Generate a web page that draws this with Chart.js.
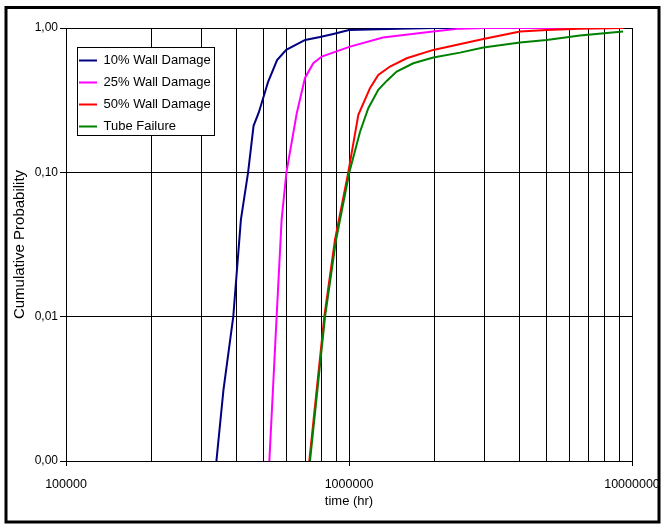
<!DOCTYPE html>
<html>
<head>
<meta charset="utf-8">
<script src="https://cdn.jsdelivr.net/npm/chart.js@4/dist/chart.umd.min.js"></script>
<style>
  body { margin: 0; background: #fff; }
  #wrap { width: 664px; height: 525px; position: relative; }
</style>
</head>
<body>
<div id="wrap"><canvas id="probChart"></canvas></div>
<script>
// series (time in hours, cumulative probability)
const wall10Time = [340000, 360000, 390000, 415000, 440000, 460000, 480000, 505000, 517000, 557000, 600000, 700000, 790000, 880000, 1000000, 1500000, 2000000, 9300000];
const wall10Prob = [0.001, 0.0031, 0.01, 0.047, 0.1, 0.21, 0.26, 0.36, 0.42, 0.60, 0.705, 0.826, 0.866, 0.909, 0.968, 0.99, 1.0, 1.0];

const wall25Time = [523000, 555000, 578000, 601000, 654000, 699000, 748000, 801000, 1008000, 1318000, 1982000, 2467000, 3000000, 9300000];
const wall25Prob = [0.001, 0.01, 0.047, 0.1, 0.258, 0.451, 0.57, 0.634, 0.743, 0.858, 0.944, 0.99, 1.0, 1.0];

const wall50Time = [724000, 818000, 892000, 994000, 1079000, 1186000, 1269000, 1396000, 1599000, 1986000, 2983000, 4020000, 4995000, 6547000, 9300000];
const wall50Prob = [0.001, 0.01, 0.034, 0.1, 0.25, 0.383, 0.473, 0.541, 0.617, 0.705, 0.84, 0.944, 0.968, 0.99, 1.0];

const tubeTime = [728000, 823000, 900000, 1003000, 1094000, 1170000, 1269000, 1359000, 1474000, 1687000, 1986000, 2467000, 2983000, 4020000, 4995000, 6547000, 9300000];
const tubeProb = [0.001, 0.01, 0.034, 0.1, 0.191, 0.278, 0.373, 0.43, 0.499, 0.57, 0.624, 0.675, 0.732, 0.792, 0.826, 0.886, 0.944];

const seriesNames = ['10% Wall Damage', '25% Wall Damage', '50% Wall Damage', 'Tube Failure'];
const seriesColors = ['#000080', '#ff00ff', '#ff0000', '#008000'];

// axis ticks
const xGridValues = [100000, 200000, 300000, 400000, 500000, 600000, 700000, 800000, 900000,
  1000000, 2000000, 3000000, 4000000, 5000000, 6000000, 7000000, 8000000, 9000000, 10000000];
const xLabelValues = [100000, 1000000, 10000000];
const xLabels = ['100000', '1000000', '10000000'];
const yTickValues = [0.001, 0.01, 0.1, 1];
const yTickLabels = ['0,00', '0,01', '0,10', '1,00'];

const FONT = '"Liberation Sans", Arial, sans-serif';

const toPoints = (xs, ys) => xs.map((x, i) => ({ x: x, y: ys[i] }));

// white page + black outer frame
const framePlugin = {
    id: 'frame',
    beforeDraw(chart) {
        const ctx = chart.ctx;
        ctx.save();
        ctx.fillStyle = '#fff';
        ctx.fillRect(0, 0, chart.width, chart.height);
        ctx.strokeStyle = '#000';
        ctx.lineWidth = 3;
        ctx.strokeRect(6, 7.5, 653, 514.5);
        ctx.restore();
    }
};

// legend sits inside the plot, in a white box with a thin border
const legendBoxPlugin = {
    id: 'legendBox',
    afterLayout(chart) {
        const lg = chart.legend;
        lg.left = 70;
        lg.top = 45;
    },
    afterDraw(chart) {
        const lg = chart.legend;
        const ctx = chart.ctx;
        ctx.save();
        ctx.font = '13px ' + FONT;
        const maxW = Math.max(...seriesNames.map(t => ctx.measureText(t).width));
        const x0 = Math.round(lg.left + 7) + 0.5;
        const y0 = Math.round(lg.top + 2) + 0.5;
        const w = Math.round(9 + 18 + 6.5 + maxW + 3 - 7);
        const h = Math.round(9 + 4 * 13 + 3 * 9 + 2 - 2);
        ctx.fillStyle = '#fff';
        ctx.fillRect(x0, y0, w, h);
        ctx.strokeStyle = '#000';
        ctx.lineWidth = 1;
        ctx.strokeRect(x0, y0, w, h);
        ctx.restore();
        lg.draw();
    }
};

const ctx = document.getElementById('probChart').getContext('2d');
new Chart(ctx, {
    type: 'line',
    data: {
        datasets: [
            { label: seriesNames[0], data: toPoints(wall10Time, wall10Prob), borderColor: seriesColors[0], backgroundColor: seriesColors[0], order: 3 },
            { label: seriesNames[1], data: toPoints(wall25Time, wall25Prob), borderColor: seriesColors[1], backgroundColor: seriesColors[1], order: 2 },
            { label: seriesNames[2], data: toPoints(wall50Time, wall50Prob), borderColor: seriesColors[2], backgroundColor: seriesColors[2], order: 1 },
            { label: seriesNames[3], data: toPoints(tubeTime, tubeProb), borderColor: seriesColors[3], backgroundColor: seriesColors[3], order: 0 }
        ]
    },
    options: {
        responsive: true,
        maintainAspectRatio: false,
        animation: false,
        layout: { padding: { left: 8, top: 28, right: 32, bottom: 10 } },
        elements: {
            line: { borderWidth: 2, tension: 0, fill: false },
            point: { radius: 0, hoverRadius: 0 }
        },
        scales: {
            x: {
                type: 'logarithmic',
                min: 100000,
                max: 10000000,
                afterBuildTicks: (scale) => {
                    scale.ticks = xGridValues.map(v => ({ value: v }));
                },
                afterFit: (scale) => {
                    scale.height = 54;
                    scale.paddingLeft = 0;
                    scale.paddingRight = 0;
                },
                ticks: {
                    autoSkip: false,
                    maxRotation: 0,
                    padding: 11,
                    color: '#000',
                    font: { family: FONT, size: 12.5 },
                    callback: (value) => {
                        const i = xLabelValues.indexOf(value);
                        return i >= 0 ? xLabels[i] : '';
                    }
                },
                grid: {
                    color: '#000',
                    lineWidth: 1,
                    tickLength: 5,
                    tickColor: (c) => (c.tick && xLabelValues.includes(c.tick.value)) ? '#000' : 'rgba(0,0,0,0)'
                },
                border: { color: '#000', width: 1 },
                title: {
                    display: true,
                    text: 'time (hr)',
                    color: '#000',
                    font: { family: FONT, size: 13 },
                    padding: { top: 0, bottom: 6 }
                }
            },
            y: {
                type: 'logarithmic',
                min: 0.001,
                max: 1,
                afterBuildTicks: (scale) => {
                    scale.ticks = yTickValues.map(v => ({ value: v }));
                },
                afterFit: (scale) => { scale.width = 58; },
                ticks: {
                    autoSkip: false,
                    padding: 2,
                    color: '#000',
                    font: { family: FONT, size: 12 },
                    callback: (value) => {
                        const i = yTickValues.indexOf(value);
                        return i >= 0 ? yTickLabels[i] : '';
                    }
                },
                grid: { color: '#000', lineWidth: 1, tickLength: 6, tickColor: '#000' },
                border: { color: '#000', width: 1 },
                title: {
                    display: true,
                    text: 'Cumulative Probability',
                    color: '#000',
                    font: { family: FONT, size: 15 },
                    padding: { top: 3, bottom: 0 }
                }
            }
        },
        plugins: {
            tooltip: { enabled: false },
            legend: {
                position: 'chartArea',
                align: 'start',
                labels: {
                    boxWidth: 18,
                    boxHeight: 2,
                    padding: 9,
                    color: '#000',
                    font: { family: FONT, size: 13 },
                    generateLabels: (chart) => chart.data.datasets.map((ds, i) => ({
                        text: ds.label,
                        fillStyle: ds.borderColor,
                        strokeStyle: ds.borderColor,
                        lineWidth: 0,
                        hidden: false,
                        fontColor: '#000',
                        datasetIndex: i
                    }))
                }
            }
        }
    },
    plugins: [framePlugin, legendBoxPlugin]
});
</script>
</body>
</html>
